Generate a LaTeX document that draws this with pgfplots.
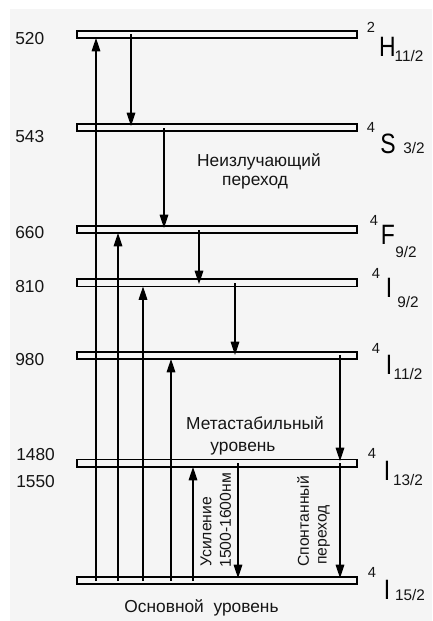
\documentclass[border=0pt]{standalone}
\usepackage{pgfplots}
\pgfplotsset{compat=1.18}
\usepackage{graphicx}
\usepackage{fontspec}
\setmainfont{Liberation Sans}
\usetikzlibrary{arrows.meta}
\definecolor{bg}{HTML}{F5F5F5}
\definecolor{txt}{HTML}{151515}

\newcommand{\term}[1]{\scalebox{0.82}[1]{\fontsize{21}{22}\selectfont #1}}

\begin{document}
\begin{tikzpicture}[
    lvl/.style={draw=black, line width=0.85pt, fill=bg},
    arr/.style={black, line width=0.8pt, -{Triangle[length=10pt,width=6.5pt]}},
    lab/.style={text=txt, inner sep=0pt, font=\fontsize{13}{15}\selectfont},
    txtn/.style={text=txt, inner sep=0pt, font=\fontsize{13}{15}\selectfont},
    vtxt/.style={text=txt, inner sep=0pt, font=\fontsize{11.8}{14}\selectfont, rotate=90, anchor=west},
    sup/.style={text=txt, inner sep=0pt, font=\fontsize{11}{12}\selectfont},
    sub/.style={text=txt, inner sep=0pt, font=\fontsize{11.5}{12}\selectfont},
]
\begin{axis}[
    scale only axis, width=324pt, height=465.75pt,
    xmin=0, xmax=432, ymin=0, ymax=621, y dir=reverse,
    hide axis, clip=false,
]
% background
\fill[white] (axis cs:0,0) rectangle (axis cs:432,621);
\fill[bg] (axis cs:10,9) rectangle (axis cs:432,621);

% energy levels (top/bottom edge in px)
\addplot[lvl] coordinates {(77,31) (357,31) (357,38) (77,38)} --cycle;
\addplot[lvl] coordinates {(77,124) (357,124) (357,131) (77,131)} --cycle;
\addplot[lvl] coordinates {(77,226) (357,226) (357,233) (77,233)} --cycle;
\addplot[lvl] coordinates {(77,279) (357,279) (357,286.5) (77,286.5)} --cycle;
\addplot[lvl] coordinates {(77,352) (357,352) (357,359) (77,359)} --cycle;
\addplot[lvl] coordinates {(77,459.5) (357,459.5) (357,467) (77,467)} --cycle;
\addplot[lvl] coordinates {(77,577) (357,577) (357,584) (77,584)} --cycle;

% pumping (up)
\addplot[arr] coordinates {(96,581) (96,38)};
\addplot[arr] coordinates {(118,581) (118,233)};
\addplot[arr] coordinates {(143,581) (143,286.5)};
\addplot[arr] coordinates {(171,581) (171,359)};
\addplot[arr] coordinates {(193,581) (193,467)};

% non-radiative / emission (down)
\addplot[arr] coordinates {(131,34) (131,126)};
\addplot[arr] coordinates {(164,128) (164,228)};
\addplot[arr] coordinates {(199,230) (199,284)};
\addplot[arr] coordinates {(235,283) (235,355)};
\addplot[arr] coordinates {(340,355) (340,461)};
\addplot[arr] coordinates {(340,463) (340,578)};
\addplot[arr] coordinates {(238,463) (238,578)};

% wavelengths
\node[lab, anchor=west] at (axis cs:15,39) {520};
\node[lab, anchor=west] at (axis cs:15,137) {543};
\node[lab, anchor=west] at (axis cs:15,233) {660};
\node[lab, anchor=west] at (axis cs:15,287) {810};
\node[lab, anchor=west] at (axis cs:15,360) {980};
\node[lab, anchor=west] at (axis cs:16,455) {1480};
\node[lab, anchor=west] at (axis cs:16,482) {1550};

% terms
\node[sup] at (axis cs:371,27) {2};
\node at (axis cs:387.5,47) {\term{H}};
\node[sub] at (axis cs:409,56) {11/2};

\node[sup] at (axis cs:371,127) {4};
\node at (axis cs:388,143.5) {\term{S}};
\node[sub] at (axis cs:414,148) {3/2};

\node[sup] at (axis cs:374,220) {4};
\node at (axis cs:388,235) {\term{F}};
\node[sub] at (axis cs:406,252) {9/2};

\node[sup] at (axis cs:376,273) {4};
\node at (axis cs:389,288) {\term{I}};
\node[sub] at (axis cs:408,302) {9/2};

\node[sup] at (axis cs:376,348) {4};
\node at (axis cs:389,365) {\term{I}};
\node[sub] at (axis cs:408,374) {11/2};

\node[sup] at (axis cs:372,453) {4};
\node at (axis cs:387,471) {\term{I}};
\node[sub] at (axis cs:408,480) {13/2};

\node[sup] at (axis cs:372,572) {4};
\node at (axis cs:387,590) {\term{I}};
\node[sub] at (axis cs:410,595) {15/2};

% captions
\node[txtn] at (axis cs:259,162) {Неизлучающий};
\node[txtn] at (axis cs:255,183) {переход};
\node[txtn] at (axis cs:255,423) {Метастабильный};
\node[txtn] at (axis cs:243,449) {уровень};
\node[txtn] at (axis cs:201.5,608) {Основной~~уровень};

\node[vtxt] at (axis cs:206,567) {Усиление};
\node[vtxt] at (axis cs:225.5,568) {1500-1600нм};
\node[vtxt] at (axis cs:303,567) {Спонтанный};
\node[vtxt] at (axis cs:324,565) {переход};
\end{axis}
\end{tikzpicture}
\end{document}
